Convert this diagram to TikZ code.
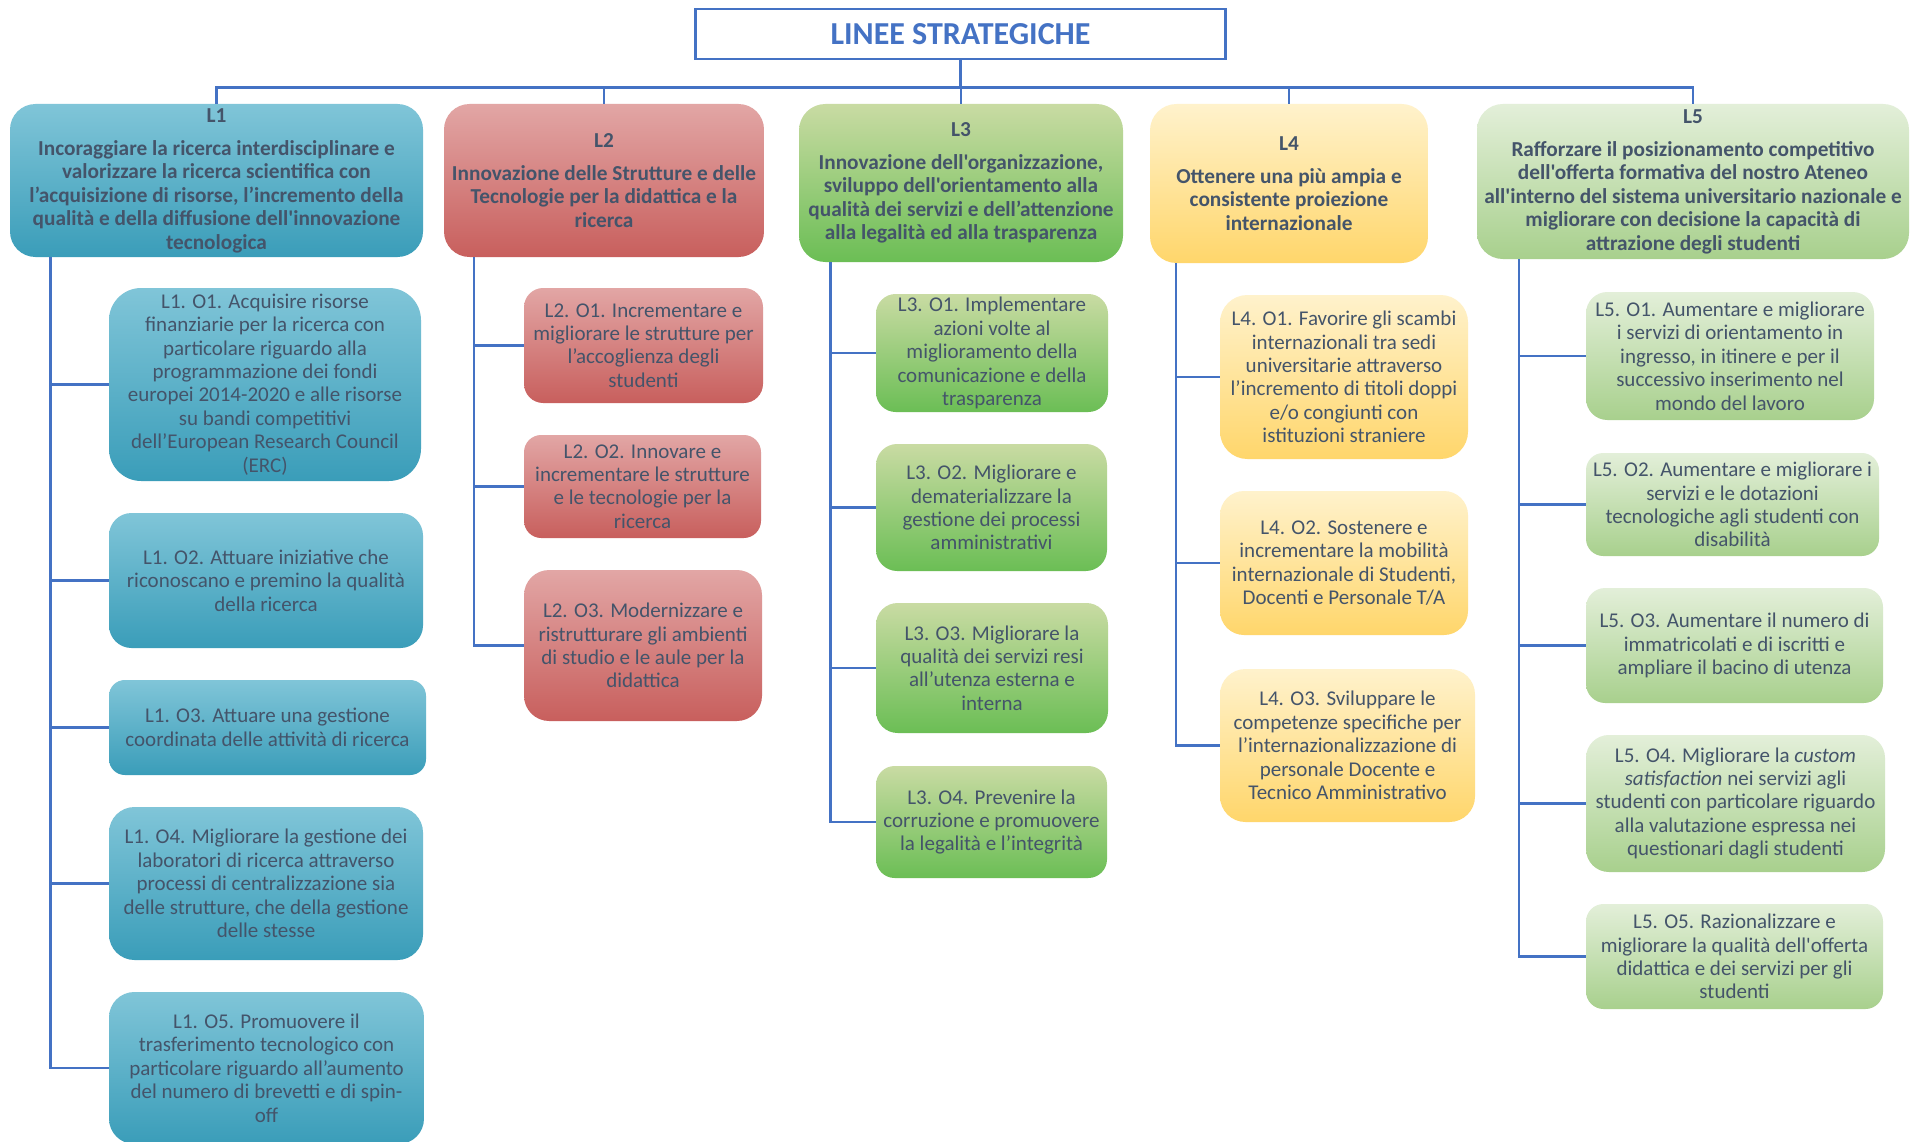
\documentclass[tikz,border=0pt]{standalone}
\usepackage{fontspec}
\setmainfont{Carlito}[Ligatures=TeXOff]
\definecolor{txt}{HTML}{44546A}
\definecolor{lnk}{HTML}{4472C4}
\definecolor{aT}{HTML}{80C5D8}\definecolor{aB}{HTML}{3A9DB9}
\definecolor{bT}{HTML}{E2A6A5}\definecolor{bB}{HTML}{C85F5D}
\definecolor{cT}{HTML}{C9DBA3}\definecolor{cB}{HTML}{6BBE55}
\definecolor{dT}{HTML}{FFF2CC}\definecolor{dB}{HTML}{FFD66B}
\definecolor{eT}{HTML}{E3EFD9}\definecolor{eB}{HTML}{A8D08D}
\tikzset{
  boxbase/.style={align=center, inner sep=0pt, outer sep=0pt, text=txt, font=\fontsize{21}{23.4}\selectfont},
  headbox/.style={boxbase, font=\bfseries\fontsize{21.3}{23.5}\selectfont},
  colA/.style={top color=aT, bottom color=aB},
  colB/.style={top color=bT, bottom color=bB},
  colC/.style={top color=cT, bottom color=cB},
  colD/.style={top color=dT, bottom color=dB},
  colE/.style={top color=eT, bottom color=eB},
  conn/.style={draw=lnk, line width=2.8pt},
}
\newcommand\ObjBox[7]{%
  \pgfmathsetmacro\bxw{#5-#3}\pgfmathsetmacro\bxh{#6-#4}%
  \pgfmathsetmacro\bxr{0.1667*min(\bxw,\bxh)}%
  \node[#2, minimum width=\bxw pt, minimum height=\bxh pt, rounded corners=\bxr pt, anchor=north west] (#1) at (#3,#4) {#7};%
}
\begin{document}
\begin{tikzpicture}[x=1pt,y=-1pt]
\useasboundingbox[fill=white] (0,0) rectangle (1910,1142);
% title
\node[draw=lnk, line width=2.5pt, fill=white, minimum width=530pt, minimum height=50pt, inner sep=0pt,
      text=lnk, font=\bfseries\fontsize{32}{36}\selectfont] (title) at (960.5,33.8) {LINEE STRATEGICHE};
% headers
\ObjBox{L1}{headbox,colA}{10}{104}{423}{257}{L1\\[9.5pt]Incoraggiare la ricerca interdisciplinare e\\valorizzare la ricerca scientifica con\\l’acquisizione di risorse, l’incremento della\\qualità e della diffusione dell'innovazione\\tecnologica}
\ObjBox{L2}{headbox,colB}{444}{104}{764}{257}{L2\\[9.5pt]Innovazione delle Strutture e delle\\Tecnologie per la didattica e la\\ricerca}
\ObjBox{L3}{headbox,colC}{799}{104}{1123}{262}{L3\\[9.5pt]Innovazione dell'organizzazione,\\sviluppo dell'orientamento alla\\qualità dei servizi e dell’attenzione\\alla legalità ed alla trasparenza}
\ObjBox{L4}{headbox,colD}{1150}{104}{1428}{263}{L4\\[9.5pt]Ottenere una più ampia e\\consistente proiezione\\internazionale}
\ObjBox{L5}{headbox,colE}{1477}{104}{1909}{259}{L5\\[9.5pt]Rafforzare il posizionamento competitivo\\dell'offerta formativa del nostro Ateneo\\all'interno del sistema universitario nazionale e\\migliorare con decisione la capacità di\\attrazione degli studenti}
% L1 children
\ObjBox{L1o1}{boxbase,colA}{109}{288}{421}{481}{L1. O1. Acquisire risorse\\finanziarie per la ricerca con\\particolare riguardo alla\\programmazione dei fondi\\europei 2014-2020 e alle risorse\\su bandi competitivi\\dell’European Research Council\\(ERC)}
\ObjBox{L1o2}{boxbase,colA}{109}{513}{423}{648}{L1. O2. Attuare iniziative che\\riconoscano e premino la qualità\\della ricerca}
\ObjBox{L1o3}{boxbase,colA}{109}{680}{426}{775}{L1. O3. Attuare una gestione\\coordinata delle attività di ricerca}
\ObjBox{L1o4}{boxbase,colA}{109}{807}{423}{960}{L1. O4. Migliorare la gestione dei\\laboratori di ricerca attraverso\\processi di centralizzazione sia\\delle strutture, che della gestione\\delle stesse}
\ObjBox{L1o5}{boxbase,colA}{109}{992}{424}{1144}{L1. O5. Promuovere il\\trasferimento tecnologico con\\particolare riguardo all’aumento\\del numero di brevetti e di spin-\\off}
% L2 children
\ObjBox{L2o1}{boxbase,colB}{524}{288}{763}{403}{L2. O1. Incrementare e\\migliorare le strutture per\\l’accoglienza degli\\studenti}
\ObjBox{L2o2}{boxbase,colB}{524}{435}{761}{538}{L2. O2. Innovare e\\incrementare le strutture\\e le tecnologie per la\\ricerca}
\ObjBox{L2o3}{boxbase,colB}{524}{570}{762}{721}{L2. O3. Modernizzare e\\ristrutturare gli ambienti\\di studio e le aule per la\\didattica}
% L3 children
\ObjBox{L3o1}{boxbase,colC}{876}{294}{1108}{412}{L3. O1. Implementare\\azioni volte al\\miglioramento della\\comunicazione e della\\trasparenza}
\ObjBox{L3o2}{boxbase,colC}{876}{444}{1107}{571}{L3. O2. Migliorare e\\dematerializzare la\\gestione dei processi\\amministrativi}
\ObjBox{L3o3}{boxbase,colC}{876}{603}{1108}{733}{L3. O3. Migliorare la\\qualità dei servizi resi\\all’utenza esterna e\\interna}
\ObjBox{L3o4}{boxbase,colC}{876}{766}{1107}{878}{L3. O4. Prevenire la\\corruzione e promuovere\\la legalità e l’integrità}
% L4 children
\ObjBox{L4o1}{boxbase,colD}{1220}{295}{1468}{459}{L4. O1. Favorire gli scambi\\internazionali tra sedi\\universitarie attraverso\\l’incremento di titoli doppi\\e/o congiunti con\\istituzioni straniere}
\ObjBox{L4o2}{boxbase,colD}{1220}{491}{1468}{635}{L4. O2. Sostenere e\\incrementare la mobilità\\internazionale di Studenti,\\Docenti e Personale T/A}
\ObjBox{L4o3}{boxbase,colD}{1220}{669}{1475}{822}{L4. O3. Sviluppare le\\competenze specifiche per\\l’internazionalizzazione di\\personale Docente e\\Tecnico Amministrativo}
% L5 children
\ObjBox{L5o1}{boxbase,colE}{1586}{292}{1874}{420}{L5. O1. Aumentare e migliorare\\i servizi di orientamento in\\ingresso, in itinere e per il\\successivo inserimento nel\\mondo del lavoro}
\ObjBox{L5o2}{boxbase,colE}{1586}{453}{1879}{556}{L5. O2. Aumentare e migliorare i\\servizi e le dotazioni\\tecnologiche agli studenti con\\disabilità}
\ObjBox{L5o3}{boxbase,colE}{1586}{588}{1883}{703}{L5. O3. Aumentare il numero di\\immatricolati e di iscritti e\\ampliare il bacino di utenza}
\ObjBox{L5o4}{boxbase,colE}{1586}{735}{1885}{872}{L5. O4. Migliorare la \emph{custom}\\\emph{satisfaction} nei servizi agli\\studenti con particolare riguardo\\alla valutazione espressa nei\\questionari dagli studenti}
\ObjBox{L5o5}{boxbase,colE}{1586}{904}{1883}{1009}{L5. O5. Razionalizzare e\\migliorare la qualità dell'offerta\\didattica e dei servizi per gli\\studenti}
% top connectors
\coordinate (bar) at (960.5,87.7);
\draw[conn] (title.south) -- (bar);
\draw[conn] (L1.north) -- (L1.north |- bar) -- (L5.north |- bar) -- (L5.north);
\foreach \n in {L2,L3,L4} \draw[conn] (\n.north) -- (\n.north |- bar);
% spines
\coordinate (s1) at (50.5,257);
\coordinate (s2) at (474,257);
\coordinate (s3) at (830.5,262);
\coordinate (s4) at (1176,263);
\coordinate (s5) at (1519,259);
\draw[conn] (s1) |- (L1o5.west);
\foreach \k in {1,...,4} \draw[conn] (s1 |- L1o\k.west) -- (L1o\k.west);
\draw[conn] (s2) |- (L2o3.west);
\foreach \k in {1,2} \draw[conn] (s2 |- L2o\k.west) -- (L2o\k.west);
\draw[conn] (s3) |- (L3o4.west);
\foreach \k in {1,2,3} \draw[conn] (s3 |- L3o\k.west) -- (L3o\k.west);
\draw[conn] (s4) |- (L4o3.west);
\foreach \k in {1,2} \draw[conn] (s4 |- L4o\k.west) -- (L4o\k.west);
\draw[conn] (s5) |- (L5o5.west);
\foreach \k in {1,...,4} \draw[conn] (s5 |- L5o\k.west) -- (L5o\k.west);
\end{tikzpicture}
\end{document}
